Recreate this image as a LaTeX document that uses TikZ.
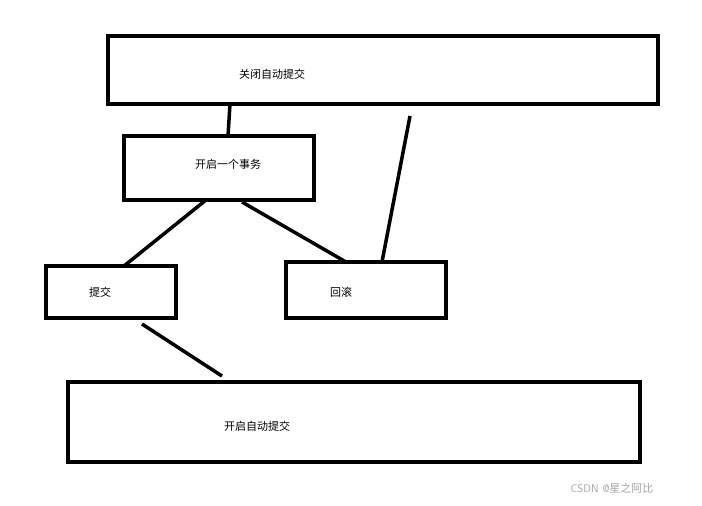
\documentclass[tikz,border=0pt]{standalone}
\usepackage{fontspec}
\newfontfamily\cjk{Noto Sans CJK SC}
\begin{document}
\begin{tikzpicture}[x=1pt,y=-1pt,
  box/.style={draw,line width=3.5pt,inner sep=0pt},
  lbl/.style={font=\cjk\fontsize{11}{13}\selectfont},
  con/.style={line width=3.5pt}]
\useasboundingbox[fill=white] (0,0) rectangle (702,506);
\draw[box] (108,36) rectangle (658,104);
\node[lbl] (t1) at (272,74) {关闭自动提交};
\draw[box] (124,136) rectangle (314,200);
\node[lbl] (t2) at (228,164) {开启一个事务};
\draw[box] (46,266) rectangle (176,318);
\node[lbl] (t3) at (100,292) {提交};
\draw[box] (286,262) rectangle (446,318);
\node[lbl] (t4) at (341,292) {回滚};
\draw[box] (68,382) rectangle (640,462);
\node[lbl] (t5) at (257,426) {开启自动提交};
\node[font=\sffamily\fontsize{11}{13}\selectfont,text=gray!70] (wm) at (612,488) {CSDN @\cjk 星之阿比};
\coordinate (a1) at (230,104); \coordinate (a2) at (228,136);
\coordinate (b1) at (410,116); \coordinate (b2) at (382,262);
\coordinate (c1) at (206,200); \coordinate (c2) at (124,266);
\coordinate (d1) at (242,202); \coordinate (d2) at (346,262);
\coordinate (e1) at (142,324); \coordinate (e2) at (222,376);
\draw[con] (a1) -- (a2);
\draw[con] (b1) -- (b2);
\draw[con] (c1) -- (c2);
\draw[con] (d1) -- (d2);
\draw[con] (e1) -- (e2);
\end{tikzpicture}
\end{document}
